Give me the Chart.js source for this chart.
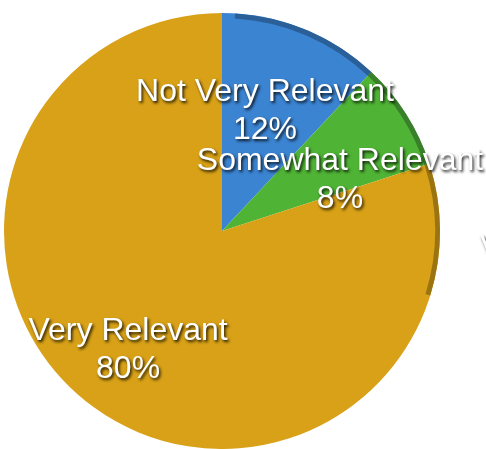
<!DOCTYPE html>
<html>
<head>
<meta charset="utf-8">
<script src="https://cdn.jsdelivr.net/npm/chart.js@4"></script>
<style>
html,body{margin:0;padding:0;background:#fff;}
#wrap{width:486px;height:449px;position:relative;}
</style>
</head>
<body>
<div id="wrap"><canvas id="c" width="486" height="449"></canvas></div>
<script>
const categories = ["Not Very Relevant", "Somewhat Relevant", "Very Relevant"];
const percentValues = [12, 8, 80];
const percentLabels = ["12%", "8%", "80%"];
const sliceColors = ["#3b84d2", "#4fb435", "#d8a117"];
const rimColors = ["#2a5f97", "#3a7f2a", "#9b7412"];
const labelRadiusFactors = [0.585, 0.59, 0.695];
const labelAngleFractions = [0.456, 0.81, 0.508];

const labelPlugin = {
  id: 'pieLabels',
  afterDatasetsDraw(chart) {
    const ctx = chart.ctx;
    const meta = chart.getDatasetMeta(0);
    ctx.save();
    // 3D rim on right side
    meta.data.forEach((arc, i) => {
      const p = arc.getProps(['x','y','startAngle','endAngle','outerRadius'], true);
      const s = Math.max(p.startAngle, -Math.PI/2 + 0.06);
      const e = Math.min(p.endAngle, 0.3);
      if (e > s) {
        ctx.beginPath();
        ctx.arc(p.x, p.y, p.outerRadius - 2.5, s, e);
        ctx.strokeStyle = rimColors[i];
        ctx.lineWidth = 5;
        ctx.stroke();
      }
    });
    ctx.font = '32px "Liberation Sans", Arial, sans-serif';
    ctx.textAlign = 'center';
    ctx.textBaseline = 'middle';
    ctx.fillStyle = '#ffffff';
    ctx.shadowColor = 'rgba(0,0,0,0.85)';
    ctx.shadowBlur = 3;
    ctx.shadowOffsetX = 1.5;
    ctx.shadowOffsetY = 2;
    meta.data.forEach((arc, i) => {
      const p = arc.getProps(['x','y','startAngle','endAngle','outerRadius'], true);
      const ang = p.startAngle + (p.endAngle - p.startAngle) * labelAngleFractions[i];
      const r = p.outerRadius * labelRadiusFactors[i];
      const lx = p.x + Math.cos(ang) * r;
      const ly = p.y + Math.sin(ang) * r;
      ctx.fillText(categories[i], lx, ly - 19);
      ctx.fillText(percentLabels[i], lx, ly + 19);
    });
    ctx.textAlign = 'left';
    ctx.fillText('V', 480, 248);
    ctx.restore();
  }
};

new Chart(document.getElementById('c'), {
  type: 'pie',
  data: {
    labels: categories,
    datasets: [{
      data: percentValues,
      backgroundColor: sliceColors,
      borderWidth: 0
    }]
  },
  options: {
    responsive: false,
    animation: false,
    layout: { padding: { left: 4, right: 46, top: 13, bottom: 0 } },
    plugins: { legend: { display: false }, tooltip: { enabled: false } }
  },
  plugins: [labelPlugin]
});
</script>
</body>
</html>
